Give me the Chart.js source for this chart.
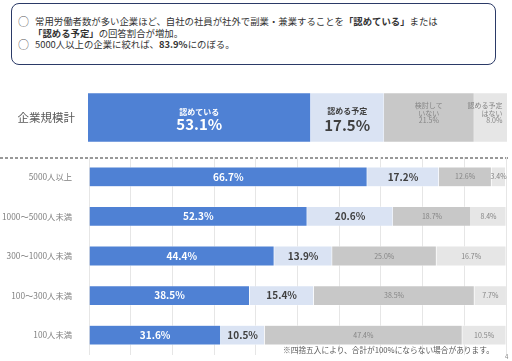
<!DOCTYPE html>
<html lang="ja">
<head>
<meta charset="utf-8">
<script src="https://cdn.jsdelivr.net/npm/chart.js@4.4.1/dist/chart.umd.min.js"></script>
<style>
  html, body { margin: 0; padding: 0; background: #fff; }
  body { width: 512px; height: 361px; position: relative; overflow: hidden; font-family: "Noto Sans CJK JP", "Noto Sans", sans-serif; }
  .note { position: absolute; left: 11px; top: 3px; width: 483px; height: 60px; border: 1.5px solid #2b3a67; border-radius: 8px; }
  .line { position: absolute; font-size: 9.4px; line-height: 12px; color: #333; white-space: nowrap; }
  .bul { position: absolute; left: 18px; font-size: 11px; line-height: 12px; color: #555; }
  .foot { position: absolute; left: 283px; top: 345px; font-size: 7.7px; line-height: 10px; color: #595959; white-space: nowrap; }
  .page { position: absolute; left: 505px; top: 352px; font-size: 6px; color: #888; }
  #sumWrap { position: absolute; left: 0; top: 88px; width: 512px; height: 60px; }
  #mainWrap { position: absolute; left: 0; top: 150px; width: 512px; height: 211px; }
  svg.dash { position: absolute; left: 0; top: 157px; }
</style>
</head>
<body>
<div class="note"></div>
<div class="bul" style="top:15px">○</div>
<div class="line" style="left:35px; top:15px">常用労働者数が多い企業ほど、自社の社員が社外で副業・兼業することを<b>「認めている」</b>または</div>
<div class="line" style="left:33px; top:27px"><b>「認める予定」</b>の回答割合が増加。</div>
<div class="bul" style="top:38px">○</div>
<div class="line" style="left:35px; top:38px">5000人以上の企業に絞れば、<b>83.9%</b>にのぼる。</div>

<div id="sumWrap"><canvas id="sumChart"></canvas></div>
<svg class="dash" width="512" height="2"><line x1="0" y1="1" x2="510" y2="1" stroke="#333" stroke-width="1" stroke-dasharray="3,2"/></svg>
<div id="mainWrap"><canvas id="mainChart"></canvas></div>

<div class="foot">※四捨五入により、合計が100%にならない場合があります。</div>
<div class="page">4</div>

<script>
// answer categories and colours
const answerNames = ['認めている', '認める予定', '検討していない', '認める予定はない'];
const colors = ['#4f81d4', '#dae3f3', '#c8c8c8', '#e6e6e6'];

// overall (企業規模計)
const totalLabel = ['企業規模計'];
const totalValues = [53.1, 17.5, 21.5, 8.0];

// by company size
const sizeLabels = ['5000人以上', '1000～5000人未満', '300～1000人未満', '100～300人未満', '100人未満'];
const allowed = [66.7, 52.3, 44.4, 38.5, 31.6];
const planned = [17.2, 20.6, 13.9, 15.4, 10.5];
const considering = [12.6, 18.7, 25.0, 38.5, 47.4];
const notPlanned = [3.4, 8.4, 16.7, 7.7, 10.5];

const FONT = '"Noto Sans CJK JP", "Noto Sans", sans-serif';

// draws a stack of text lines; each line: {text, size, bold, color, dy}
function drawLines(ctx, x, y, lines, align) {
  ctx.save();
  ctx.textAlign = align || 'center';
  ctx.textBaseline = 'middle';
  lines.forEach(l => {
    ctx.font = (l.bold ? 'bold ' : '') + l.size + 'px ' + FONT;
    ctx.fillStyle = l.color;
    ctx.fillText(l.text, x, y + l.dy);
  });
  ctx.restore();
}

const pct = v => v.toFixed(1) + '%';

const segLabels = {
  id: 'segLabels',
  afterDatasetsDraw(chart, args, opts) {
    const ctx = chart.ctx;
    chart.data.datasets.forEach((ds, di) => {
      const meta = chart.getDatasetMeta(di);
      meta.data.forEach((bar, i) => {
        const cx = (bar.x + bar.base) / 2;
        const res = opts.make(di, ds.data[i], bar);
        drawLines(ctx, res.x !== undefined ? res.x : cx, bar.y, res.lines, res.align);
      });
    });
  }
};

function makeDatasets(series) {
  return series.map((d, i) => ({
    label: answerNames[i],
    data: d,
    backgroundColor: colors[i],
    borderColor: '#ffffff',
    borderWidth: 0.5,
    barPercentage: 1,
    categoryPercentage: 1
  }));
}

// keep the axes from adding their own label padding
function fixY(width) {
  return function (scale) {
    scale.width = width;
    scale.paddingTop = 0;
    scale.paddingBottom = 0;
  };
}
function fixX(scale) {
  scale.height = 0;
  scale.paddingLeft = 0;
  scale.paddingRight = 0;
}

// summary bar
new Chart(document.getElementById('sumChart'), {
  type: 'bar',
  data: {
    labels: totalLabel,
    datasets: makeDatasets([[totalValues[0]], [totalValues[1]], [totalValues[2]], [totalValues[3]]])
  },
  options: {
    indexAxis: 'y',
    responsive: true,
    maintainAspectRatio: false,
    animation: false,
    layout: { padding: { top: 5, bottom: 6, right: 5, left: 0 } },
    scales: {
      x: { stacked: true, min: 0, max: 100, display: false },
      y: {
        stacked: true,
        grid: { display: false },
        border: { display: false },
        ticks: { color: '#595959', font: { family: FONT, size: 11.5 }, padding: 5 },
        afterFit: fixY(88)
      }
    },
    plugins: {
      legend: { display: false },
      tooltip: { enabled: false },
      segLabels: {
        make(di, v, bar) {
          if (di === 0) return { lines: [
            { text: '認めている', size: 8, bold: true, color: '#fff', dy: -6 },
            { text: pct(v), size: 15, bold: true, color: '#fff', dy: 7 }] };
          if (di === 1) return { lines: [
            { text: '認める予定', size: 8, bold: true, color: '#404040', dy: -7 },
            { text: pct(v), size: 15, bold: true, color: '#404040', dy: 8 }] };
          if (di === 2) return { lines: [
            { text: '検討して', size: 7, color: '#858585', dy: -12 },
            { text: 'いない', size: 7, color: '#858585', dy: -4.5 },
            { text: pct(v), size: 7, color: '#858585', dy: 3 }] };
          return { x: bar.x - 5, align: 'right', lines: [
            { text: '認める予定', size: 7, color: '#858585', dy: -12 },
            { text: 'はない', size: 7, color: '#858585', dy: -4.5 },
            { text: pct(v), size: 7, color: '#858585', dy: 3 }] };
        }
      }
    }
  },
  plugins: [segLabels]
});

// by company size
new Chart(document.getElementById('mainChart'), {
  type: 'bar',
  data: {
    labels: sizeLabels,
    datasets: makeDatasets([allowed, planned, considering, notPlanned]).map(ds => Object.assign(ds, { barPercentage: 0.5 }))
  },
  options: {
    indexAxis: 'y',
    responsive: true,
    maintainAspectRatio: false,
    animation: false,
    layout: { padding: { top: 7, bottom: 6, right: 6, left: 0 } },
    scales: {
      x: {
        stacked: true, min: 0, max: 100,
        ticks: { display: false, stepSize: 10 },
        grid: { color: '#e6e6e6', drawTicks: false },
        border: { display: false },
        afterFit: fixX
      },
      y: {
        stacked: true,
        grid: { display: false },
        border: { display: false },
        ticks: { color: '#7f7f7f', font: { family: FONT, size: 8.3 }, padding: 9 },
        afterFit: fixY(89)
      }
    },
    plugins: {
      legend: { display: false },
      tooltip: { enabled: false },
      segLabels: {
        make(di, v) {
          if (di === 0) return { lines: [{ text: pct(v), size: 10, bold: true, color: '#fff', dy: 0 }] };
          if (di === 1) return { lines: [{ text: pct(v), size: 10, bold: true, color: '#404040', dy: 0 }] };
          return { lines: [{ text: pct(v), size: 7, color: '#858585', dy: 0 }] };
        }
      }
    }
  },
  plugins: [segLabels]
});
</script>
</body>
</html>
